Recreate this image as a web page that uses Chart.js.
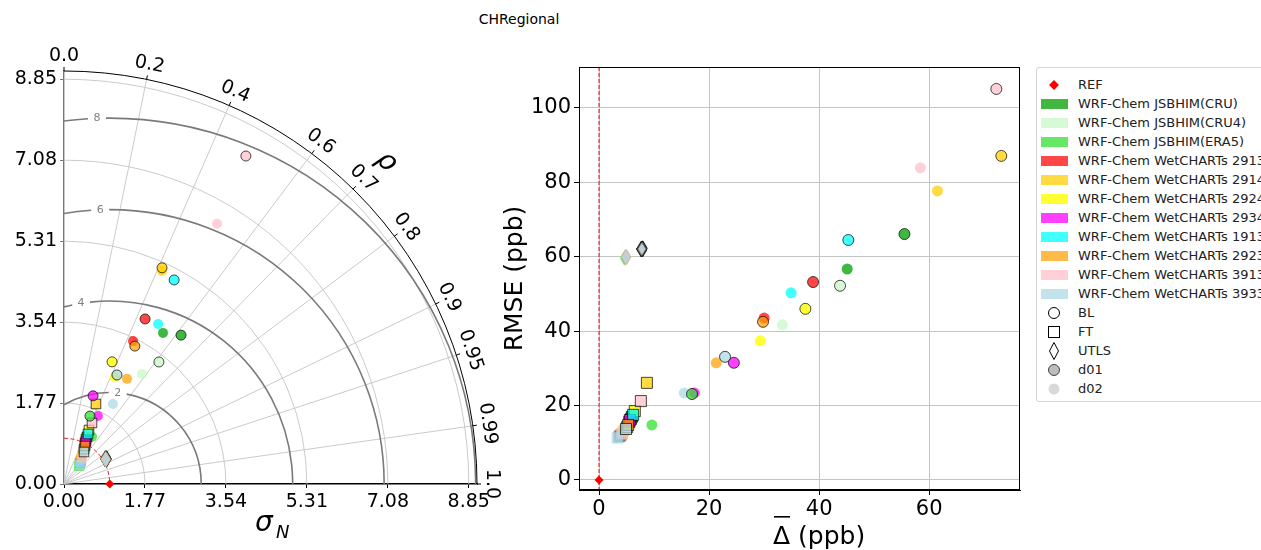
<!DOCTYPE html>
<html>
<head>
<meta charset="utf-8">
<script src="https://cdn.jsdelivr.net/npm/chart.js@4.4.0/dist/chart.umd.min.js"></script>
<style>
  html, body { margin: 0; padding: 0; width: 1261px; height: 550px; overflow: hidden; background: #fff; font-family: "DejaVu Sans", sans-serif; }
  #title { position: absolute; left: 419px; width: 200px; top: 11px; text-align: center; font-size: 14px; line-height: 16px; }
  #taylor { position: absolute; left: 0; top: 0; }
  #scatter { position: absolute; left: 500px; top: 0; }
  #legend { position: absolute; left: 1036px; top: 67px; width: 260px; height: 333px; border: 1px solid #d6d6d6; border-radius: 3px; background: #fff; }
  .row { position: absolute; left: 0; height: 20px; width: 260px; }
  .row svg { position: absolute; left: 4px; top: 0; }
  .row span { position: absolute; left: 41px; top: 0; line-height: 20px; font-size: 13px; white-space: nowrap; color: #222; }
</style>
</head>
<body>
<div id="title">CHRegional</div>
<canvas id="taylor" width="520" height="550"></canvas>
<canvas id="scatter" width="530" height="550"></canvas>
<div id="legend"></div>
<script>
// モデル名と色
const models = [
  "WRF-Chem JSBHIM(CRU)", "WRF-Chem JSBHIM(CRU4)", "WRF-Chem JSBHIM(ERA5)",
  "WRF-Chem WetCHARTs 2913", "WRF-Chem WetCHARTs 2914", "WRF-Chem WetCHARTs 2924",
  "WRF-Chem WetCHARTs 2934", "WRF-Chem WetCHARTs 1913", "WRF-Chem WetCHARTs 2923",
  "WRF-Chem WetCHARTs 3913", "WRF-Chem WetCHARTs 3933"
];
const modelColors = [
  "rgba(0,160,0,0.75)", "rgba(200,248,200,0.75)", "rgba(50,225,50,0.75)",
  "rgba(255,0,0,0.72)", "rgba(255,205,0,0.75)", "rgba(255,255,0,0.8)",
  "rgba(255,0,255,0.75)", "rgba(0,255,255,0.75)", "rgba(255,160,0,0.72)",
  "rgba(255,192,203,0.75)", "rgba(173,216,230,0.75)"
];

// Taylor: 正規化標準偏差と相関 / Scatter: バイアスとRMSE
const stdBL01 = [4.14, 3.38, 1.59, 4.02, 5.19, 2.87, 2.03, 5.07, 3.39, 8.20, 2.65];
const corBL01 = [0.618, 0.614, 0.357, 0.441, 0.413, 0.366, 0.313, 0.475, 0.457, 0.485, 0.437];
const biasBL01 = [55.5, 43.8, 16.9, 38.9, 73.1, 37.5, 24.5, 45.3, 29.8, 72.2, 22.9];
const rmseBL01 = [66.1, 52.2, 23.1, 53.2, 87.1, 46.0, 31.5, 64.5, 42.5, 105.1, 33.1];

const stdBL02 = [3.95, 2.95, 1.20, 3.47, 5.13, 2.59, 1.66, 4.06, 2.68, 6.60, 2.05];
const corBL02 = [0.548, 0.578, 0.512, 0.435, 0.418, 0.430, 0.447, 0.507, 0.514, 0.507, 0.522];
const biasBL02 = [45.1, 33.3, 9.6, 30.0, 61.5, 29.3, 17.3, 34.9, 21.3, 58.4, 15.5];
const rmseBL02 = [56.7, 41.7, 14.8, 43.5, 77.7, 37.4, 23.4, 50.3, 31.5, 83.9, 23.4];

const stdFT01 = [1.144, 0.881, 1.095, 1.007, 1.884, 1.301, 1.056, 1.213, 0.949, 1.468, 0.825];
const corFT01 = [0.440, 0.496, 0.439, 0.456, 0.371, 0.420, 0.456, 0.433, 0.484, 0.417, 0.530];
const biasFT01 = [6.0, 5.1, 5.8, 5.5, 8.7, 6.5, 5.6, 6.2, 5.3, 7.6, 4.9];
const rmseFT01 = [17.0, 14.2, 16.4, 15.6, 26.1, 18.5, 16.1, 17.5, 14.8, 21.2, 13.7];

const stdFT02 = [0.560, 0.496, 0.512, 0.625, 0.746, 0.643, 0.575, 0.595, 0.661, 0.691, 0.543];
const corFT02 = [0.625, 0.661, 0.640, 0.595, 0.528, 0.578, 0.610, 0.588, 0.562, 0.570, 0.645];
const biasFT02 = [3.8, 3.5, 3.6, 4.0, 4.5, 4.2, 3.8, 4.0, 4.2, 4.2, 3.3];
const rmseFT02 = [11.8, 11.3, 11.6, 12.1, 13.2, 12.4, 11.8, 12.1, 12.4, 12.6, 11.3];

const stdUT01 = [1.07, 1.06, 1.08, 1.07, 1.07, 1.06, 1.07, 1.08, 1.07, 1.06, 1.07];
const corUT01 = [0.86, 0.86, 0.85, 0.86, 0.86, 0.86, 0.86, 0.85, 0.86, 0.86, 0.86];
const biasUT01 = [7.8, 7.7, 7.9, 7.8, 7.8, 7.7, 7.8, 7.9, 7.8, 7.7, 7.8];
const rmseUT01 = [62.1, 62.0, 62.3, 62.1, 62.1, 62.0, 62.1, 62.2, 62.1, 62.0, 62.1];

const stdUT02 = [1.06, 1.06, 1.05, 1.06, 1.06, 1.06, 1.06, 1.06, 1.06, 1.06, 1.06];
const corUT02 = [0.86, 0.86, 0.86, 0.86, 0.86, 0.86, 0.86, 0.86, 0.86, 0.86, 0.86];
const biasUT02 = [4.9, 4.9, 4.6, 4.9, 4.9, 4.9, 4.9, 4.9, 4.9, 4.9, 4.9];
const rmseUT02 = [59.9, 59.9, 59.6, 59.9, 59.9, 59.9, 59.9, 59.9, 59.9, 59.9, 59.9];

const refStd = 1.0;

// Taylor図の軸
const tMax = 9.03;
const stdTicks = [0, 1.77, 3.54, 5.31, 7.08, 8.85];
const corGrid = [0.2, 0.4, 0.6, 0.7, 0.8, 0.9, 0.95, 0.99];
const corTicks = [0.0, 0.2, 0.4, 0.6, 0.7, 0.8, 0.9, 0.95, 0.99, 1.0];
const corTickLabels = ["0.0", "0.2", "0.4", "0.6", "0.7", "0.8", "0.9", "0.95", "0.99", "1.0"];
const rmsLevels = [2, 4, 6, 8];
const rmsLabelAngles = [85, 99, 92, 92];

// 散布図の目盛
const biasTicks = [0, 20, 40, 60];
const rmseTicks = [0, 20, 40, 60, 80, 100];

const groups = [
  { level: "BL", dom: "d01", std: stdBL01, cor: corBL01, bias: biasBL01, rmse: rmseBL01 },
  { level: "FT", dom: "d01", std: stdFT01, cor: corFT01, bias: biasFT01, rmse: rmseFT01 },
  { level: "BL", dom: "d02", std: stdBL02, cor: corBL02, bias: biasBL02, rmse: rmseBL02 },
  { level: "FT", dom: "d02", std: stdFT02, cor: corFT02, bias: biasFT02, rmse: rmseFT02 },
  { level: "UTLS", dom: "d02", std: stdUT02, cor: corUT02, bias: biasUT02, rmse: rmseUT02 },
  { level: "UTLS", dom: "d01", std: stdUT01, cor: corUT01, bias: biasUT01, rmse: rmseUT01 },
];

const edgeColor = "rgba(0,0,0,0.7)";
Chart.defaults.font.family = "DejaVu Sans";
Chart.defaults.color = "#000";

// 細いダイヤ形マーカー
function diamond(fill, edge, w, h) {
  const c = document.createElement("canvas");
  c.width = w + 2; c.height = h + 2;
  const g = c.getContext("2d");
  g.beginPath();
  g.moveTo(c.width / 2, 1);
  g.lineTo(c.width - 1, c.height / 2);
  g.lineTo(c.width / 2, c.height - 1);
  g.lineTo(1, c.height / 2);
  g.closePath();
  g.fillStyle = fill; g.fill();
  if (edge) { g.strokeStyle = edge; g.lineWidth = 1; g.stroke(); }
  return c;
}

function makeDatasets(toXY, circleR, rectR) {
  const sets = groups.map((g) => {
    const d01 = g.dom === "d01";
    let style = g.level === "BL" ? "circle" : "rect";
    if (g.level === "UTLS") style = modelColors.map((c) => diamond(c, d01 ? edgeColor : null, 9, 15));
    return {
      data: g.std.map((_, i) => toXY(g, i)),
      pointStyle: style,
      pointRadius: g.level === "BL" ? circleR : rectR,
      backgroundColor: modelColors,
      borderColor: d01 ? edgeColor : "rgba(0,0,0,0)",
      borderWidth: d01 ? 1 : 0,
      showLine: false,
    };
  });
  return sets;
}

// ---- Taylor diagram ----
const taylorGrid = {
  id: "taylorGrid",
  beforeDatasetsDraw(chart) {
    const { ctx, scales: { x, y } } = chart;
    const ox = x.getPixelForValue(0), oy = y.getPixelForValue(0);
    const k = x.getPixelForValue(1) - ox;
    const R = tMax * k;
    ctx.save();
    // 標準偏差の円弧
    ctx.strokeStyle = "#c4c4c4";
    ctx.lineWidth = 0.9;
    stdTicks.slice(1).forEach((s) => {
      ctx.beginPath();
      ctx.arc(ox, oy, s * k, -Math.PI / 2, 0);
      ctx.stroke();
    });
    // 相関の放射線
    corGrid.forEach((c) => {
      const th = Math.acos(c);
      ctx.beginPath();
      ctx.moveTo(ox, oy);
      ctx.lineTo(ox + R * Math.cos(th), oy - R * Math.sin(th));
      ctx.stroke();
    });
    // RMSの等値線
    ctx.strokeStyle = "#7a7a7a";
    ctx.lineWidth = 1.6;
    ctx.fillStyle = "#808080";
    ctx.font = "11px DejaVu Sans";
    ctx.textAlign = "center";
    ctx.textBaseline = "middle";
    const cx = ox + refStd * k;
    rmsLevels.forEach((L, i) => {
      const r = L * k;
      const thMax = Math.acos(-refStd / L);
      const thL = rmsLabelAngles[i] * Math.PI / 180;
      const gap = 9 / r;
      ctx.beginPath();
      ctx.arc(cx, oy, r, -thMax, -(thL + gap));
      ctx.stroke();
      ctx.beginPath();
      ctx.arc(cx, oy, r, -(thL - gap), 0);
      ctx.stroke();
      ctx.fillText(String(L), cx + r * Math.cos(thL), oy - r * Math.sin(thL));
    });
    // REFの点線円弧
    ctx.strokeStyle = "#e02020";
    ctx.lineWidth = 1;
    ctx.setLineDash([4, 2.5]);
    ctx.beginPath();
    ctx.arc(ox, oy, refStd * k, -Math.PI / 2, 0);
    ctx.stroke();
    ctx.setLineDash([]);
    // 外枠
    ctx.strokeStyle = "#000";
    ctx.lineWidth = 1;
    ctx.beginPath();
    ctx.arc(ox, oy, R, -Math.PI / 2, 0);
    ctx.stroke();
    ctx.restore();
  },
  afterDraw(chart) {
    const { ctx, scales: { x, y } } = chart;
    const ox = x.getPixelForValue(0), oy = y.getPixelForValue(0);
    const k = x.getPixelForValue(1) - ox;
    const R = tMax * k;
    ctx.save();
    ctx.fillStyle = "#000";
    ctx.strokeStyle = "#000";
    ctx.lineWidth = 1;
    ctx.font = "19px DejaVu Sans";
    ctx.textAlign = "center";
    ctx.textBaseline = "middle";
    corTicks.forEach((c, i) => {
      const th = Math.acos(c);
      ctx.beginPath();
      ctx.moveTo(ox + R * Math.cos(th), oy - R * Math.sin(th));
      ctx.lineTo(ox + (R + 4) * Math.cos(th), oy - (R + 4) * Math.sin(th));
      ctx.stroke();
      ctx.save();
      ctx.translate(ox + (R + 15) * Math.cos(th), oy - (R + 15) * Math.sin(th));
      ctx.rotate(Math.PI / 2 - th);
      ctx.fillText(corTickLabels[i], 0, 0);
      ctx.restore();
    });
    // ρ ラベル
    ctx.save();
    ctx.font = "italic 28px DejaVu Sans";
    ctx.translate(ox + (R + 43) * Math.cos(Math.PI / 4), oy - (R + 43) * Math.sin(Math.PI / 4));
    ctx.rotate(Math.PI / 4);
    ctx.fillText("ρ", 0, 0);
    ctx.restore();
    // σ_N ラベル
    ctx.textAlign = "left";
    ctx.textBaseline = "alphabetic";
    ctx.font = "italic 28px DejaVu Sans";
    ctx.fillText("σ", 255, 531);
    ctx.font = "italic 18px DejaVu Sans";
    ctx.fillText("N", 276, 538);
    ctx.restore();
  },
};

const taylorDatasets = makeDatasets((g, i) => ({
  x: g.std[i] * g.cor[i],
  y: g.std[i] * Math.sqrt(1 - g.cor[i] * g.cor[i]),
}), 5, 6.8);
taylorDatasets.push({
  data: [{ x: refStd, y: 0 }],
  pointStyle: "rectRot", pointRadius: 4.5,
  backgroundColor: "#ff0000", borderWidth: 0, clip: false,
});

const stdAxis = (fit, color) => ({
  type: "linear", min: 0, max: tMax,
  afterBuildTicks: (scale) => { scale.ticks = stdTicks.map((v) => ({ value: v })); },
  afterFit: fit,
  ticks: { font: { size: 19 }, padding: 3, callback: (v) => v.toFixed(2) },
  grid: { display: true, drawOnChartArea: false, tickLength: 4, tickColor: color },
  border: { display: true, color: color, width: 1.4 },
});

new Chart(document.getElementById("taylor"), {
  type: "scatter",
  data: { datasets: taylorDatasets },
  options: {
    responsive: false, animation: false, devicePixelRatio: 1,
    layout: { padding: { left: 0, top: 71, right: 43, bottom: 0 } },
    plugins: { legend: { display: false }, tooltip: { enabled: false } },
    scales: {
      x: stdAxis((s) => { s.height = 66; }, "#000"),
      y: stdAxis((s) => { s.width = 64; }, "#777"),
    },
  },
  plugins: [taylorGrid],
});

// ---- Bias vs RMSE ----
const scatterFrame = {
  id: "scatterFrame",
  beforeDatasetsDraw(chart) {
    const { ctx, chartArea: a, scales: { x } } = chart;
    ctx.save();
    const x0 = x.getPixelForValue(0);
    ctx.strokeStyle = "rgba(200,0,0,0.9)";
    ctx.lineWidth = 1;
    ctx.setLineDash([4, 2]);
    ctx.beginPath();
    ctx.moveTo(x0, a.top);
    ctx.lineTo(x0, a.bottom);
    ctx.stroke();
    ctx.setLineDash([]);
    ctx.strokeStyle = "#000";
    ctx.strokeRect(a.left + 0.5, a.top + 0.5, a.right - a.left - 1, a.bottom - a.top - 1);
    ctx.restore();
  },
  afterDraw(chart) {
    // x軸タイトル（Δの上線つき）
    const { ctx } = chart;
    ctx.save();
    ctx.fillStyle = "#000";
    ctx.font = "25px DejaVu Sans";
    ctx.textAlign = "left";
    ctx.textBaseline = "alphabetic";
    ctx.fillText("Δ (ppb)", 273, 544);
    ctx.fillRect(274, 516, 16, 1.6);
    ctx.restore();
  },
};

const scatterDatasets = makeDatasets((g, i) => ({ x: g.bias[i], y: g.rmse[i] }), 5.5, 7.8);
scatterDatasets.unshift({
  data: [{ x: 0, y: 0 }],
  pointStyle: "rectRot", pointRadius: 4.5,
  backgroundColor: "#ff0000", borderWidth: 0, clip: false,
});

new Chart(document.getElementById("scatter"), {
  type: "scatter",
  data: { datasets: scatterDatasets },
  options: {
    responsive: false, animation: false, devicePixelRatio: 1,
    layout: { padding: { left: 0, top: 67, right: 10, bottom: 0 } },
    plugins: { legend: { display: false }, tooltip: { enabled: false } },
    scales: {
      x: {
        type: "linear", min: -3.64, max: 76.5,
        afterBuildTicks: (scale) => { scale.ticks = biasTicks.map((v) => ({ value: v })); },
        afterFit: (s) => { s.height = 60; },
        ticks: { font: { size: 21 }, padding: 2 },
        grid: { color: "#c4c4c4", tickColor: "#000", tickLength: 5 },
        border: { color: "#000" },
      },
      y: {
        type: "linear", min: -2.7, max: 111,
        afterBuildTicks: (scale) => { scale.ticks = rmseTicks.map((v) => ({ value: v })); },
        afterFit: (s) => { s.width = 79; },
        ticks: { font: { size: 21 }, padding: 3 },
        grid: { color: "#c4c4c4", tickColor: "#000", tickLength: 5 },
        border: { color: "#000" },
        title: { display: true, text: "RMSE (ppb)", font: { size: 25 }, padding: { top: 0, bottom: 0 } },
      },
    },
  },
  plugins: [scatterFrame],
});

// ---- 凡例 ----
const legendBox = document.getElementById("legend");
function addRow(i, icon, text) {
  const row = document.createElement("div");
  row.className = "row";
  row.style.top = (7 + 19 * i) + "px";
  row.innerHTML = `<svg width="36" height="20">${icon}</svg><span>${text}</span>`;
  legendBox.appendChild(row);
}
addRow(0, '<rect x="9.5" y="6.5" width="7" height="7" fill="#ff0000" transform="rotate(45 13 10)"/>', "REF");
models.forEach((m, i) => {
  addRow(i + 1, `<rect x="0" y="5" width="27" height="10" fill="${modelColors[i]}"/>`, m);
});
addRow(12, '<circle cx="13" cy="10" r="5.5" fill="#fff" stroke="#000" stroke-width="1"/>', "BL");
addRow(13, '<rect x="7.5" y="4.5" width="11" height="11" fill="#fff" stroke="#000" stroke-width="1"/>', "FT");
addRow(14, '<polygon points="13,1.5 17.5,10 13,18.5 8.5,10" fill="#fff" stroke="#000" stroke-width="1"/>', "UTLS");
addRow(15, '<circle cx="13" cy="10" r="5.5" fill="#bdbdbd" stroke="#444" stroke-width="1"/>', "d01");
addRow(16, '<circle cx="13" cy="10" r="5.5" fill="#d9d9d9"/>', "d02");
</script>
</body>
</html>
